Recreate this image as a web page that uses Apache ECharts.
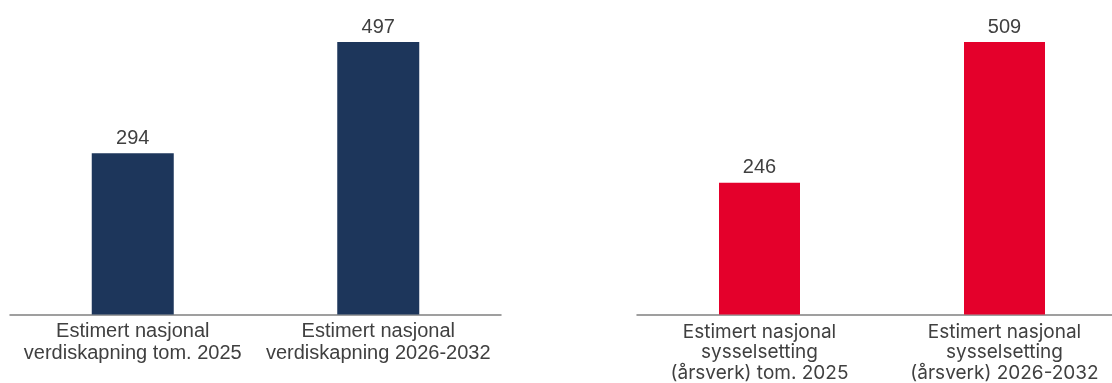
<!DOCTYPE html>
<html>
<head>
<meta charset="utf-8">
<script src="https://cdn.jsdelivr.net/npm/echarts@6/dist/echarts.min.js"></script>
<style>
html,body{margin:0;padding:0;background:#fff;}
#chart{width:1112px;height:383px;}
</style>
</head>
<body>
<div id="chart"></div>
<script>
const categoriesLeft = ['Estimert nasjonal\nverdiskapning tom. 2025', 'Estimert nasjonal\nverdiskapning 2026-2032'];
const valuesLeft = [294, 497];
const categoriesRight = ['Estimert nasjonal\nsysselsetting\n(årsverk) tom. 2025', 'Estimert nasjonal\nsysselsetting\n(årsverk) 2026-2032'];
const valuesRight = [246, 509];

const textColor = '#404040';
const axisColor = '#808080';
const leftFont = '"Liberation Sans", Arial, sans-serif';
const rightFont = 'Inter, "Liberation Sans", sans-serif';

const chart = echarts.init(document.getElementById('chart'), null, {renderer: 'canvas'});
chart.setOption({
  animation: false,
  backgroundColor: '#ffffff',
  grid: [
    {left: 10, width: 491, top: 42, bottom: 68.5, containLabel: false, outerBoundsMode: 'none'},
    {left: 637, width: 490, top: 42, bottom: 68.5, containLabel: false, outerBoundsMode: 'none'}
  ],
  xAxis: [
    {
      type: 'category', gridIndex: 0, data: categoriesLeft,
      axisLine: {lineStyle: {color: axisColor, width: 1.5}},
      axisTick: {show: false},
      axisLabel: {color: textColor, fontSize: 20, lineHeight: 21.7, fontFamily: leftFont, margin: 6, interval: 0}
    },
    {
      type: 'category', gridIndex: 1, data: categoriesRight,
      axisLine: {lineStyle: {color: axisColor, width: 1.5}},
      axisTick: {show: false},
      axisLabel: {color: textColor, fontSize: 19, lineHeight: 20.7, fontFamily: rightFont, margin: 7, interval: 0}
    }
  ],
  yAxis: [
    {type: 'value', gridIndex: 0, min: 0, max: 497, show: false},
    {type: 'value', gridIndex: 1, min: 0, max: 509, show: false}
  ],
  series: [
    {
      type: 'bar', xAxisIndex: 0, yAxisIndex: 0, data: valuesLeft, barWidth: 82,
      itemStyle: {color: '#1d365b'},
      label: {show: true, position: 'top', distance: 5, color: textColor, fontSize: 20, fontFamily: leftFont}
    },
    {
      type: 'bar', xAxisIndex: 1, yAxisIndex: 1, data: valuesRight, barWidth: 81,
      itemStyle: {color: '#e4002b'},
      label: {show: true, position: 'top', distance: 5, color: textColor, fontSize: 20, fontFamily: leftFont}
    }
  ]
});
</script>
</body>
</html>
